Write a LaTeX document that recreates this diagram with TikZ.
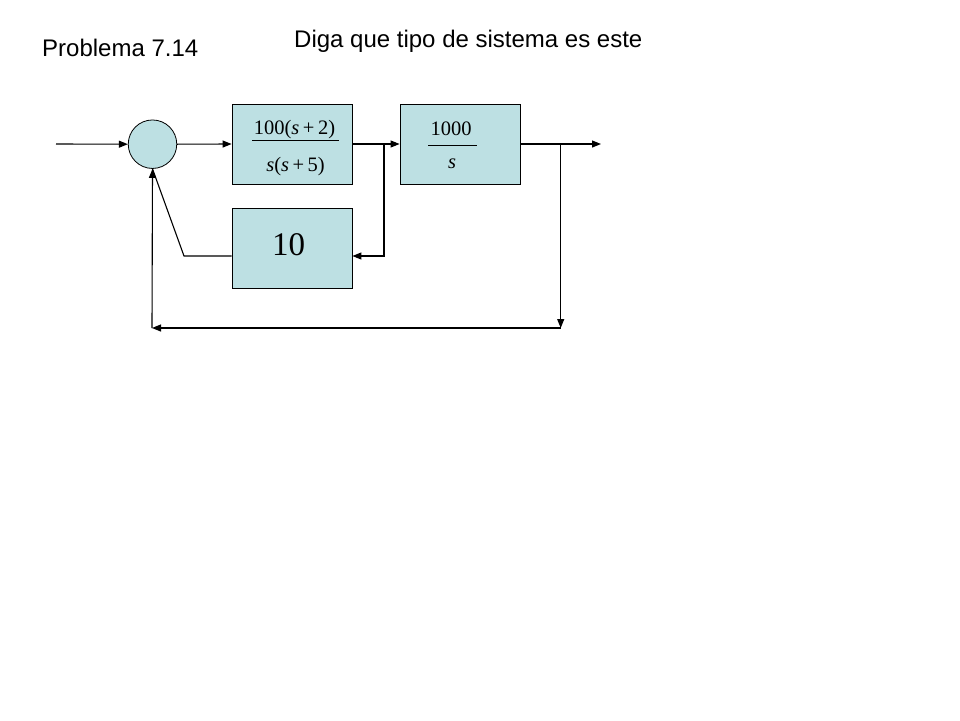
\documentclass[tikz,border=0pt]{standalone}
\usepackage{fontspec}
\usepackage{graphicx}
\setmainfont{Liberation Serif}
\newfontfamily\arialf{Liberation Sans}
\usetikzlibrary{arrows.meta}
\definecolor{boxfill}{HTML}{BDE0E3}
\tikzset{
  blk/.style={draw=black, line width=0.8pt, fill=boxfill, minimum width=120pt, minimum height=80pt, inner sep=0pt},
  sumc/.style={circle, draw=black, line width=0.8pt, fill=boxfill, minimum size=48.5pt, inner sep=0pt},
  sig/.style={line width=1.1pt, draw=black},
  arr/.style={sig, -{Triangle[length=9pt,width=7pt]}},
  title/.style={font=\arialf\fontsize{24pt}{28pt}\selectfont, anchor=base west, inner sep=0pt},
  eq/.style={font=\fontsize{20.5pt}{24pt}\selectfont, anchor=base, inner sep=0pt},
  eqbig/.style={font=\fontsize{33pt}{38pt}\selectfont, anchor=base, inner sep=0pt},
}
\begin{document}
\begin{tikzpicture}[x=1pt,y=-1pt]
\useasboundingbox (0,0) rectangle (960,720);
% titles
\node[title] (t1) at (42,56.5) {Problema 7.14};
\node[title] (t2) at (294,47) {Diga que tipo de sistema es este};
% blocks
\node[sumc] (c) at (152.5,144.2) {};
\node[blk] (b1) at (292,144) {};
\node[blk] (b2) at (460,144) {};
\node[blk] (b3) at (292,248) {};
% block contents
\node[eq] (n1) at (294.5,134) {100(\textit{s}\hspace{3.5pt}+\hspace{3.5pt}2)};
\node[eq] (d1) at (295.5,171) {\textit{s}(\textit{s}\hspace{3.5pt}+\hspace{3.5pt}5)};
\coordinate (f1a) at (252,140);
\coordinate (f1b) at (339,140);
\draw[line width=0.9pt] (f1a) -- (f1b);
\node[eq] (n2) at (451,135) {1000};
\node[eq] (d2) at (452,168.5) {\textit{s}};
\coordinate (f2a) at (428,145);
\coordinate (f2b) at (477,145);
\draw[line width=0.9pt] (f2a) -- (f2b);
\node[eqbig] (k10) at (288.5,255) {10};
% coordinates
\coordinate (in) at (56,144);
\coordinate (br1) at (384,144);
\coordinate (br1d) at (384,256);
\coordinate (fbk) at (184,256);
\coordinate (br2) at (560.7,144);
\coordinate (br2d) at (560.7,328);
\coordinate (out) at (601,144);
\coordinate (bl) at (152,328);
% connectors
\draw[arr] (in) -- (c.west);
\draw[arr] (c.east) -- (b1.west);
\draw[arr] (b1.east) -- (b2.west);
\draw[arr] (br1) -- (br1d) -- (b3.east |- br1d);
\draw[sig] (b3.west |- fbk) -- (fbk) -- (c.south);
\draw[arr] (b2.east) -- (out);
\draw[arr] (br2) -- (br2d);
\draw[arr] (br2d) -- (bl);
\draw[arr] (bl) -- (c.south);
\end{tikzpicture}
\end{document}
